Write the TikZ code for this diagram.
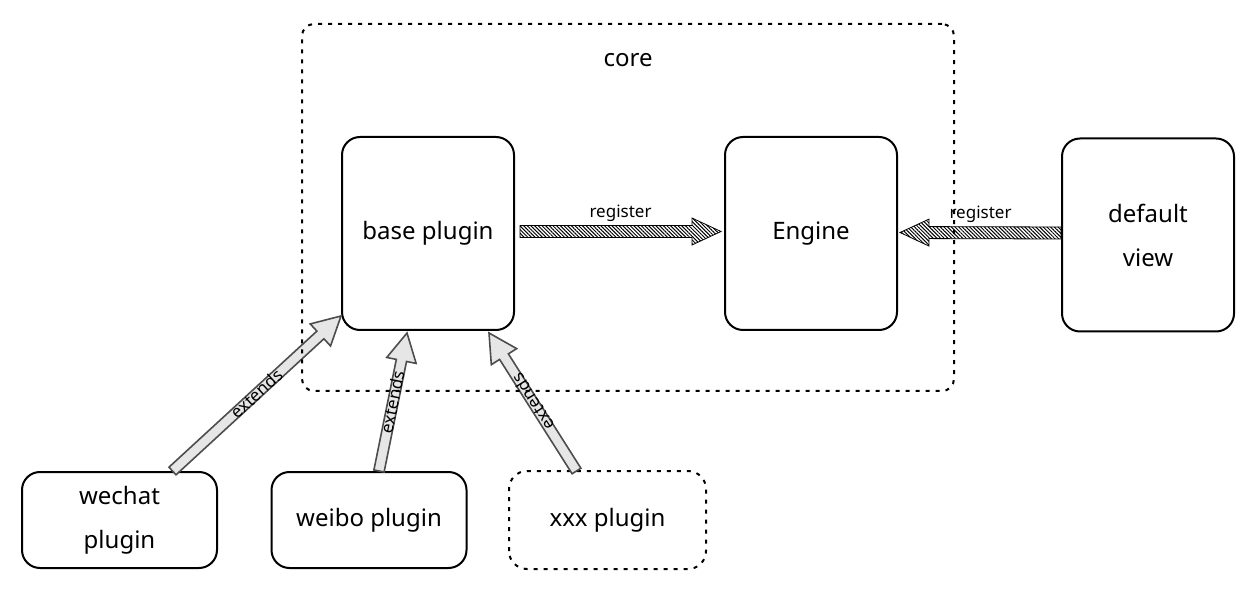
\documentclass[tikz,border=0pt]{standalone}
\usepackage{fontspec}
\setmainfont{Noto Sans}
\usetikzlibrary{calc,patterns.meta}
\definecolor{extfill}{HTML}{E6E6E6}
\definecolor{extdraw}{HTML}{4D4D4D}

% block arrow: style, from, to, half shaft, half head, head length
\newcommand{\blockarrow}[6]{%
  \draw[#1] ($(#2)!#4!90:(#3)$)
    -- ($(#3)!#6!(#2)!#4!90:(#3)$)
    -- ($(#3)!#6!(#2)!#5!90:(#3)$)
    -- (#3)
    -- ($(#3)!#6!(#2)!#5!-90:(#3)$)
    -- ($(#3)!#6!(#2)!#4!-90:(#3)$)
    -- ($(#2)!#4!-90:(#3)$) -- cycle;}

\begin{document}
\begin{tikzpicture}[x=0.5pt,y=-0.5pt,
    every node/.style={font=\fontsize{12}{22}\selectfont},
    box/.style={draw,line width=1pt,rounded corners=9pt,minimum width=86pt,minimum height=96.5pt,align=center},
    small/.style={box,minimum width=97.5pt,minimum height=48pt},
    dots/.style={line width=1pt,dash pattern=on 2pt off 3pt},
    hatch/.style={pattern={Lines[angle=-45,distance=1.3pt,line width=0.5pt]}},
    ext/.style={fill=extfill,draw=extdraw,line width=0.8pt},
    lbl/.style={font=\fontsize{8.5}{10}\selectfont,inner sep=1pt}]
  \useasboundingbox (0,0) rectangle (1256,592);

  % boxes
  \node[box] (base) at (428,233.5) {base plugin};
  \node[box] (engine) at (811,233.5) {Engine};
  \node[box] (default) at (1148,235) {default\\view};
  \node[small] (wechat) at (119.5,520) {wechat\\plugin};
  \node[small] (weibo) at (369,520) {weibo plugin};
  \node[small,draw=none] (xxx) at (607.5,520) {xxx plugin};
  \draw[dots,rounded corners=9pt] (xxx.south west) rectangle (xxx.north east);

  % arrow ends
  \coordinate (r1a) at ($(base.east)+(5,-2)$);
  \coordinate (r1b) at ($(engine.west)+(-3,-2)$);
  \coordinate (r2a) at ($(default.west)+(0,-2)$);
  \coordinate (r2b) at ($(engine.east)+(2,-1)$);
  \coordinate (e1a) at ($(wechat.north)+(53,0)$);
  \coordinate (e1b) at ($(base.south west)+(0,-15)$);
  \coordinate (e2a) at ($(weibo.north)+(10,0)$);
  \coordinate (e2b) at ($(base.south)+(-21,2)$);
  \coordinate (e3a) at ($(xxx.north)+(-31,0)$);
  \coordinate (e3b) at ($(base.south)+(61,2)$);

  % arrows
  \blockarrow{hatch}{r1a}{r1b}{3pt}{6.75pt}{14.5pt}
  \blockarrow{hatch}{r2a}{r2b}{3pt}{6.75pt}{14.5pt}
  \blockarrow{ext}{e1a}{e1b}{2.6pt}{7.5pt}{14pt}
  \blockarrow{ext}{e2a}{e2b}{2.6pt}{7.5pt}{14pt}
  \blockarrow{ext}{e3a}{e3b}{2.6pt}{7.5pt}{14pt}

  % core
  \node[draw,dots,rounded corners=6pt,minimum width=326pt,minimum height=183.5pt] (core) at (628,207.5) {};
  \node (corelabel) at (628,60) {core};

  % labels
  \path (r1a) -- (r1b) node[lbl,midway,above=4pt] {register};
  \path (r2a) -- (r2b) node[lbl,midway,above=4pt] {register};
  \path (e1a) -- (e1b) node[lbl,midway,sloped,allow upside down] {extends};
  \path (e2a) -- (e2b) node[lbl,midway,sloped,allow upside down] {extends};
  \path (e3a) -- (e3b) node[lbl,midway,sloped,allow upside down] {extends};
\end{tikzpicture}
\end{document}
